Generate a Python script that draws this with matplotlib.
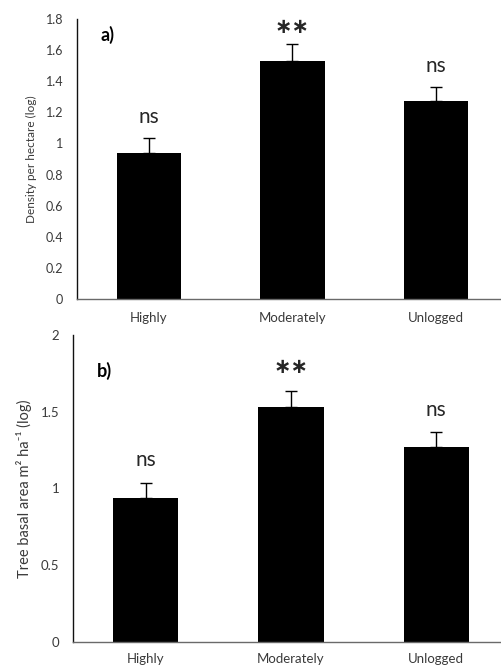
import matplotlib
matplotlib.use("Agg")
import matplotlib.pyplot as plt
import numpy as np

plt.rcParams['font.family'] = ['Lato', 'DejaVu Sans']

categories = ["Highly", "Moderately", "Unlogged"]
density_means = [0.94, 1.53, 1.27]
density_err = [0.095, 0.11, 0.095]
density_sig = ["ns", "**", "ns"]
basal_means = [0.94, 1.53, 1.27]
basal_err = [0.095, 0.105, 0.095]
basal_sig = ["ns", "**", "ns"]

W, H = 502, 667
fig = plt.figure(figsize=(W / 100, H / 100), dpi=100)

txt_dark = '#262626'
txt_grey = '#3a3a3a'


def panel(rect, means, errs, sigs, ylim, yticks, yticklabels, ylabel, tag, tag_y,
          label_fs, tick_fs, ns_off, star_off, xpad):
    ax = fig.add_axes(rect)
    x = np.arange(len(categories))
    ax.bar(x, means, width=0.45, color='black', zorder=2)
    ax.errorbar(x, means, yerr=[np.zeros(len(errs)), errs], fmt='none',
                ecolor='black', elinewidth=1.0, capsize=4, capthick=1.0, zorder=3)
    ax.set_xlim(-0.5, 2.5)
    ax.set_ylim(*ylim)
    ax.set_yticks(yticks)
    ax.set_yticklabels(yticklabels)
    ax.set_xticks(x)
    ax.set_xticklabels(categories)
    ax.tick_params(length=0, labelsize=tick_fs, colors=txt_grey, pad=10)
    ax.tick_params(axis='x', pad=xpad, labelsize=9.5)
    for s in ['top', 'right']:
        ax.spines[s].set_visible(False)
    ax.spines['left'].set_color('#111111')
    ax.spines['left'].set_linewidth(1.0)
    ax.spines['bottom'].set_color('#6a6a6a')
    ax.spines['bottom'].set_linewidth(1.0)
    ax.set_ylabel(ylabel, fontsize=label_fs, color=txt_grey, labelpad=6)
    for xi, m, e, s in zip(x, means, errs, sigs):
        if s == "**":
            ax.annotate("\u2217\u2217", (xi, m + e), xytext=(0, star_off),
                        textcoords='offset points', ha='center', va='center',
                        fontsize=15, fontweight='bold', color=txt_dark,
                        family=['DejaVu Sans'])
        else:
            ax.annotate(s, (xi, m + e), xytext=(0, ns_off), textcoords='offset points',
                        ha='center', va='bottom', fontsize=15, color=txt_dark)
    ax.text(0.055, tag_y, tag, transform=ax.transAxes, fontsize=13,
            fontweight='bold', color='black', va='center', ha='left')
    return ax


ax1 = panel([77 / W, (H - 299) / H, 431 / W, 280 / H],
            density_means, density_err, density_sig,
            (0, 1.8), np.arange(0, 1.81, 0.2),
            ["0", "0.2", "0.4", "0.6", "0.8", "1", "1.2", "1.4", "1.6", "1.8"],
            "Density per hectare (log)", "a)", 0.943, 8.5, 9, 8, 12, 9)

ax2 = panel([73 / W, (H - 641.7) / H, 436 / W, 306.7 / H],
            basal_means, basal_err, basal_sig,
            (0, 2), [0, 0.5, 1, 1.5, 2],
            ["0", "0.5", "1", "1.5", "2"],
            "Tree basal area m\u00b2 ha\u207b\u00b9 (log)", "b)", 0.883, 10.5, 9.5, 9, 17, 8)

fig.savefig("out.png", dpi=100)
